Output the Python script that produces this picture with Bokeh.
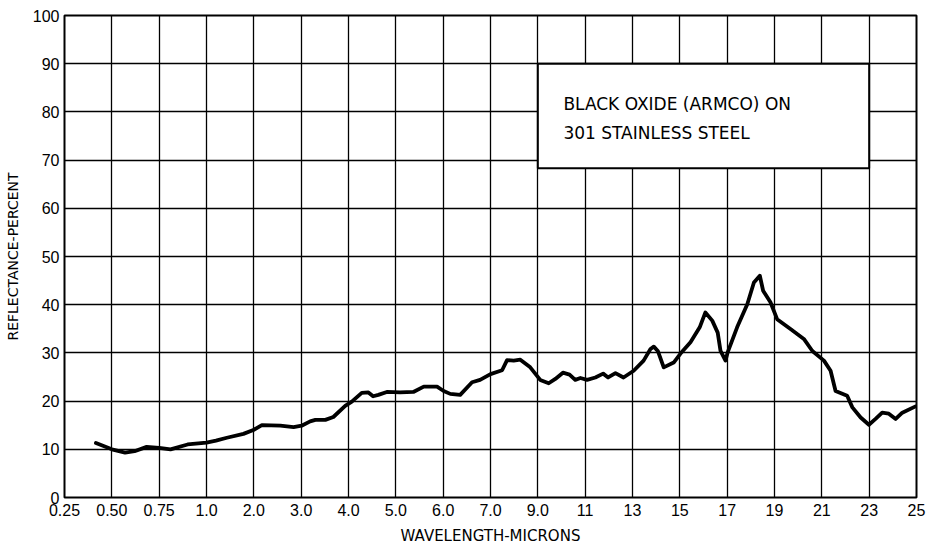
import numpy as np
from bokeh.plotting import figure
from bokeh.models import FixedTicker, BoxAnnotation, Label, Range1d
from bokeh.embed import file_html
from bokeh.resources import INLINE

# Axis tick labels (equally spaced on the original chart)
tick_labels = ["0.25", "0.50", "0.75", "1.0", "2.0", "3.0", "4.0", "5.0", "6.0", "7.0",
               "9.0", "11", "13", "15", "17", "19", "21", "23", "25"]
tick_values = [0.25, 0.5, 0.75, 1.0, 2.0, 3.0, 4.0, 5.0, 6.0, 7.0,
               9.0, 11, 13, 15, 17, 19, 21, 23, 25]
y_ticks = [0, 10, 20, 30, 40, 50, 60, 70, 80, 90, 100]

# Curve: wavelength (microns) and reflectance (percent)
wavelength = [0.416, 0.50, 0.57, 0.62, 0.684, 0.75, 0.81, 0.90, 1.0, 1.2, 1.43, 1.78, 1.99,
              2.17, 2.56, 2.84, 3.01, 3.19, 3.30, 3.51, 3.68, 3.93, 4.07, 4.28, 4.42, 4.52,
              4.63, 4.81, 5.09, 5.37, 5.59, 5.87, 6.01, 6.15, 6.36, 6.61, 6.78, 7.0, 7.49,
              7.70, 7.98, 8.26, 8.68, 9.1, 9.46, 9.74, 10.06, 10.34, 10.58, 10.8, 11.08,
              11.43, 11.76, 11.97, 12.28, 12.62, 13.05, 13.47, 13.76, 13.9, 14.07, 14.32,
              14.74, 15.02, 15.45, 15.84, 16.08, 16.37, 16.6, 16.72, 16.93, 17.02, 17.42,
              17.85, 18.13, 18.38, 18.52, 18.83, 19.11, 19.69, 20.24, 20.6, 21.09, 21.37,
              21.58, 22.07, 22.29, 22.64, 22.99, 23.27, 23.55, 23.83, 24.12, 24.4, 24.96]
reflectance = [11.3, 10.0, 9.3, 9.6, 10.5, 10.3, 10.0, 11.0, 11.4, 11.8, 12.4, 13.2, 14.0,
               15.0, 14.9, 14.6, 14.9, 15.8, 16.1, 16.1, 16.7, 19.0, 19.9, 21.7, 21.8, 21.0,
               21.3, 21.9, 21.8, 21.9, 23.0, 23.0, 22.1, 21.5, 21.3, 23.9, 24.4, 25.6, 26.4,
               28.5, 28.4, 28.6, 27.0, 24.4, 23.7, 24.6, 25.9, 25.5, 24.4, 24.8, 24.4,
               24.9, 25.7, 24.9, 25.8, 24.9, 26.3, 28.4, 30.8, 31.3, 30.4, 27.0,
               28.0, 29.8, 32.2, 35.3, 38.4, 36.7, 34.2, 30.4, 28.4, 30.1, 35.3,
               40.1, 44.6, 46.0, 42.9, 40.5, 37.0, 34.9, 32.9, 30.4, 28.4, 26.3,
               22.1, 21.1, 18.7, 16.6, 15.1, 16.3, 17.6, 17.4, 16.3, 17.6, 18.9]

title_lines = ["BLACK OXIDE  (ARMCO) ON", "301 STAINLESS STEEL"]

TICK_FONT = "Liberation Sans"
FONT = "DejaVu Sans"

# position on the equally spaced tick scale
idx = list(range(len(tick_values)))
x_pos = np.interp(wavelength, tick_values, idx)

p = figure(width=934, height=548, output_backend="svg", toolbar_location=None,
           x_range=Range1d(0, len(tick_values) - 1), y_range=Range1d(0, 100),
           min_border_left=64, min_border_right=18, min_border_top=15, min_border_bottom=51)
p.background_fill_color = "white"
p.border_fill_color = "white"
p.outline_line_color = "black"
p.outline_line_width = 2

p.xaxis.ticker = FixedTicker(ticks=idx)
p.xaxis.major_label_overrides = {i: t for i, t in enumerate(tick_labels)}
p.yaxis.ticker = FixedTicker(ticks=y_ticks)
p.yaxis.major_label_overrides = {v: str(v) for v in y_ticks}

for ax in (p.xaxis[0], p.yaxis[0]):
    ax.axis_line_color = None
    ax.major_tick_line_color = None
    ax.minor_tick_line_color = None
    ax.major_tick_in = 0
    ax.major_tick_out = 0
    ax.major_label_text_font = TICK_FONT
    ax.major_label_text_font_size = "16px"
    ax.major_label_text_color = "black"
    ax.axis_label_text_font = FONT
    ax.axis_label_text_font_style = "normal"
    ax.axis_label_text_color = "black"

p.xaxis.axis_label = "WAVELENGTH-MICRONS"
p.yaxis.axis_label = "REFLECTANCE-PERCENT"
p.xaxis.axis_label_text_font_size = "15px"
p.yaxis.axis_label_text_font_size = "14px"
p.xaxis.major_label_standoff = 6
p.yaxis.major_label_standoff = 5
p.xaxis.axis_label_standoff = 8
p.yaxis.axis_label_standoff = 9

p.xgrid.ticker = FixedTicker(ticks=idx)
p.ygrid.ticker = FixedTicker(ticks=y_ticks)
for g in (p.xgrid[0], p.ygrid[0]):
    g.grid_line_color = "black"
    g.grid_line_width = 1.3
    g.grid_line_alpha = 1.0

p.line(x_pos, reflectance, line_color="black", line_width=3.8, line_join="round", line_cap="round")

box = BoxAnnotation(left=10, right=17, top=90, bottom=68.3,
                    fill_color="white", fill_alpha=1.0,
                    line_color="black", line_alpha=1.0, line_width=2)
p.add_layout(box)

p.add_layout(Label(x=10.54, y=81.7, text=title_lines[0], text_font=FONT, text_font_size="17px",
                   text_baseline="middle", text_color="black"))
p.add_layout(Label(x=10.54, y=75.6, text=title_lines[1], text_font=FONT, text_font_size="17px",
                   text_baseline="middle", text_color="black"))

open("out.html", "w").write(file_html(p, INLINE))
